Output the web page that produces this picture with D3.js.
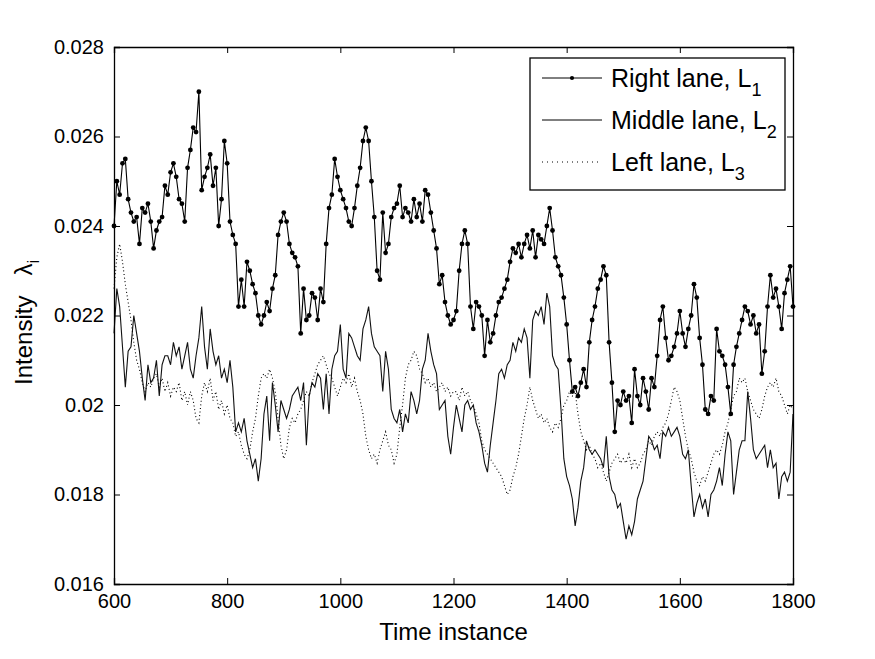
<!DOCTYPE html>
<html>
<head>
<meta charset="utf-8">
<script src="https://cdn.jsdelivr.net/npm/d3@7"></script>
<style>
  html, body { margin: 0; padding: 0; background: #fff; }
  svg { display: block; font-family: "Liberation Sans", Arial, Helvetica, sans-serif; }
</style>
</head>
<body>
<svg id="chart" width="875" height="659"></svg>
<script>
// ---- data ----
const tStart = 600, tStep = 5;
const rightLane = [
0.0240,0.0250,0.0247,0.0254,0.0255,0.0246,0.0243,0.0241,0.0242,0.0236,
0.0244,0.0243,0.0245,0.0241,0.0235,0.0239,0.0241,0.0242,0.0249,0.0247,
0.0252,0.0254,0.0251,0.0246,0.0245,0.0241,0.0253,0.0257,0.0262,0.0261,
0.0270,0.0248,0.0251,0.0253,0.0256,0.0249,0.0253,0.0240,0.0246,0.0259,
0.0254,0.0241,0.0238,0.0236,0.0222,0.0228,0.0222,0.0232,0.0230,0.0227,
0.0225,0.0220,0.0218,0.0220,0.0223,0.0221,0.0226,0.0229,0.0238,0.0241,
0.0243,0.0241,0.0236,0.0234,0.0233,0.0231,0.0216,0.0226,0.0219,0.0220,
0.0225,0.0224,0.0219,0.0226,0.0223,0.0236,0.0244,0.0247,0.0255,0.0251,
0.0248,0.0246,0.0244,0.0241,0.0240,0.0244,0.0249,0.0253,0.0259,0.0262,
0.0259,0.0250,0.0242,0.0230,0.0228,0.0243,0.0234,0.0236,0.0242,0.0244,
0.0245,0.0249,0.0242,0.0244,0.0243,0.0241,0.0246,0.0242,0.0245,0.0241,
0.0248,0.0247,0.0243,0.0239,0.0235,0.0227,0.0229,0.0223,0.0220,0.0218,
0.0219,0.0221,0.0230,0.0236,0.0239,0.0236,0.0222,0.0217,0.0223,0.0222,
0.0220,0.0211,0.0219,0.0214,0.0216,0.0220,0.0223,0.0224,0.0226,0.0228,
0.0232,0.0235,0.0234,0.0236,0.0233,0.0236,0.0238,0.0235,0.0239,0.0233,
0.0238,0.0237,0.0236,0.0240,0.0244,0.0239,0.0233,0.0231,0.0229,0.0224,
0.0218,0.0210,0.0203,0.0204,0.0202,0.0205,0.0208,0.0204,0.0214,0.0219,
0.0222,0.0226,0.0228,0.0231,0.0229,0.0214,0.0205,0.0194,0.0201,0.0200,
0.0203,0.0201,0.0202,0.0196,0.0208,0.0202,0.0200,0.0206,0.0203,0.0199,
0.0206,0.0204,0.0211,0.0219,0.0222,0.0215,0.0210,0.0211,0.0213,0.0216,
0.0221,0.0216,0.0213,0.0217,0.0220,0.0227,0.0224,0.0215,0.0209,0.0199,
0.0198,0.0202,0.0201,0.0217,0.0212,0.0211,0.0209,0.0204,0.0198,0.0209,
0.0213,0.0216,0.0219,0.0222,0.0221,0.0218,0.0220,0.0216,0.0218,0.0207,
0.0212,0.0222,0.0229,0.0224,0.0226,0.0222,0.0217,0.0225,0.0228,0.0231,
0.0222];
const middleLane = [
0.0216,0.0226,0.0222,0.0213,0.0204,0.0212,0.0213,0.0220,0.0216,0.0212,
0.0206,0.0201,0.0209,0.0205,0.0206,0.0210,0.0202,0.0209,0.0211,0.0211,
0.0209,0.0214,0.0211,0.0213,0.0208,0.0211,0.0214,0.0208,0.0206,0.0211,
0.0215,0.0222,0.0213,0.0208,0.0217,0.0212,0.0209,0.0211,0.0206,0.0208,
0.0205,0.0210,0.0204,0.0194,0.0196,0.0194,0.0197,0.0192,0.0189,0.0186,
0.0188,0.0183,0.0188,0.0198,0.0202,0.0192,0.0205,0.0200,0.0194,0.0201,
0.0199,0.0197,0.0199,0.0202,0.0203,0.0204,0.0201,0.0205,0.0191,0.0202,
0.0205,0.0204,0.0207,0.0206,0.0199,0.0207,0.0198,0.0208,0.0211,0.0212,
0.0218,0.0208,0.0206,0.0216,0.0215,0.0213,0.0211,0.0210,0.0217,0.0219,
0.0222,0.0216,0.0213,0.0212,0.0211,0.0203,0.0212,0.0208,0.0199,0.0197,
0.0196,0.0199,0.0194,0.0198,0.0196,0.0203,0.0201,0.0198,0.0201,0.0208,
0.0210,0.0216,0.0212,0.0209,0.0207,0.0199,0.0200,0.0201,0.0193,0.0189,
0.0195,0.0200,0.0197,0.0194,0.0200,0.0201,0.0199,0.0200,0.0196,0.0194,
0.0191,0.0187,0.0185,0.0191,0.0196,0.0201,0.0207,0.0208,0.0206,0.0209,
0.0210,0.0214,0.0212,0.0215,0.0214,0.0217,0.0215,0.0206,0.0219,0.0221,
0.0220,0.0222,0.0218,0.0225,0.0222,0.0211,0.0209,0.0208,0.0199,0.0188,
0.0184,0.0182,0.0179,0.0173,0.0177,0.0183,0.0186,0.0192,0.0190,0.0189,
0.0190,0.0189,0.0188,0.0186,0.0193,0.0184,0.0181,0.0180,0.0177,0.0178,
0.0174,0.0170,0.0173,0.0171,0.0174,0.0179,0.0181,0.0183,0.0188,0.0193,
0.0192,0.0190,0.0191,0.0188,0.0194,0.0193,0.0195,0.0193,0.0194,0.0195,
0.0193,0.0189,0.0188,0.0190,0.0182,0.0175,0.0178,0.0180,0.0177,0.0179,
0.0175,0.0180,0.0181,0.0183,0.0186,0.0182,0.0189,0.0194,0.0192,0.0180,
0.0185,0.0190,0.0192,0.0192,0.0203,0.0197,0.0190,0.0188,0.0189,0.0190,
0.0191,0.0186,0.0190,0.0186,0.0187,0.0179,0.0184,0.0185,0.0183,0.0185,
0.0198];
const leftLane = [
0.0226,0.0233,0.0236,0.0232,0.0227,0.0223,0.0219,0.0214,0.0210,0.0208,
0.0205,0.0203,0.0205,0.0204,0.0206,0.0207,0.0204,0.0206,0.0203,0.0205,
0.0202,0.0204,0.0203,0.0205,0.0201,0.0203,0.0200,0.0203,0.0201,0.0197,
0.0196,0.0202,0.0205,0.0203,0.0206,0.0201,0.0203,0.0199,0.0201,0.0198,
0.0200,0.0197,0.0196,0.0193,0.0194,0.0191,0.0189,0.0188,0.0190,0.0194,
0.0197,0.0202,0.0206,0.0207,0.0206,0.0208,0.0206,0.0203,0.0197,0.0191,
0.0188,0.0190,0.0195,0.0197,0.0196,0.0198,0.0199,0.0201,0.0203,0.0202,
0.0205,0.0207,0.0209,0.0210,0.0211,0.0209,0.0207,0.0206,0.0204,0.0202,
0.0204,0.0206,0.0205,0.0207,0.0204,0.0206,0.0203,0.0201,0.0198,0.0193,
0.0190,0.0188,0.0189,0.0187,0.0190,0.0192,0.0194,0.0191,0.0190,0.0187,
0.0189,0.0195,0.0200,0.0206,0.0209,0.0210,0.0212,0.0211,0.0208,0.0207,
0.0205,0.0206,0.0204,0.0205,0.0203,0.0204,0.0205,0.0203,0.0204,0.0202,
0.0203,0.0203,0.0201,0.0204,0.0202,0.0203,0.0201,0.0200,0.0198,0.0196,
0.0192,0.0190,0.0189,0.0188,0.0187,0.0186,0.0185,0.0184,0.0182,0.0180,
0.0181,0.0184,0.0186,0.0189,0.0193,0.0197,0.0200,0.0204,0.0201,0.0199,
0.0197,0.0198,0.0196,0.0197,0.0195,0.0194,0.0196,0.0195,0.0197,0.0200,
0.0201,0.0203,0.0202,0.0203,0.0198,0.0194,0.0192,0.0190,0.0191,0.0189,
0.0188,0.0186,0.0187,0.0185,0.0183,0.0185,0.0187,0.0188,0.0189,0.0187,
0.0188,0.0187,0.0189,0.0186,0.0188,0.0186,0.0187,0.0189,0.0190,0.0192,
0.0191,0.0193,0.0194,0.0193,0.0195,0.0196,0.0198,0.0201,0.0204,0.0203,
0.0201,0.0197,0.0193,0.0190,0.0188,0.0185,0.0183,0.0182,0.0184,0.0183,
0.0185,0.0187,0.0189,0.0190,0.0189,0.0191,0.0194,0.0196,0.0199,0.0202,
0.0203,0.0206,0.0205,0.0206,0.0203,0.0201,0.0199,0.0198,0.0197,0.0199,
0.0202,0.0204,0.0205,0.0204,0.0206,0.0203,0.0202,0.0200,0.0198,0.0200,
0.0199];
const xTicks = [600, 800, 1000, 1200, 1400, 1600, 1800];
const yTicks = [0.016, 0.018, 0.020, 0.022, 0.024, 0.026, 0.028];
const yTickLabels = ["0.016", "0.018", "0.02", "0.022", "0.024", "0.026", "0.028"];
const legendItems = [
  {name: "Right lane, L", sub: "1", key: "right"},
  {name: "Middle lane, L", sub: "2", key: "middle"},
  {name: "Left lane, L", sub: "3", key: "left"}
];

// ---- layout ----
const svg = d3.select("#chart");
const L = 114, R = 793, T = 47, B = 584;
const x = d3.scaleLinear().domain([600, 1800]).range([L, R]);
const y = d3.scaleLinear().domain([0.016, 0.028]).range([B, T]);
const times = rightLane.map((_, i) => tStart + i * tStep);

const toPts = arr => arr.map((v, i) => [times[i], v]);
const line = d3.line().x(d => x(d[0])).y(d => y(d[1]));

const plot = svg.append("g");
// Left lane dotted
plot.append("path").attr("d", line(toPts(leftLane)))
  .attr("fill", "none").attr("stroke", "#000").attr("stroke-width", 1.1)
  .attr("stroke-dasharray", "1,2.6");
// Middle lane solid
plot.append("path").attr("d", line(toPts(middleLane)))
  .attr("fill", "none").attr("stroke", "#111").attr("stroke-width", 1.1);
// Right lane with dots
plot.append("path").attr("d", line(toPts(rightLane)))
  .attr("fill", "none").attr("stroke", "#000").attr("stroke-width", 1.1);
plot.selectAll("circle.rl").data(toPts(rightLane)).enter().append("circle")
  .attr("class", "rl").attr("cx", d => x(d[0])).attr("cy", d => y(d[1]))
  .attr("r", 2.4).attr("fill", "#000");

// ---- axes (MATLAB-style box with inward ticks) ----
const tl = 6;
const axB = svg.append("g").attr("transform", `translate(0,${B})`)
  .call(d3.axisBottom(x).tickValues(xTicks).tickSize(-tl).tickPadding(10).tickFormat(d3.format("d")));
const axT = svg.append("g").attr("transform", `translate(0,${T})`)
  .call(d3.axisTop(x).tickValues(xTicks).tickSize(-tl).tickFormat(""));
const axL = svg.append("g").attr("transform", `translate(${L},0)`)
  .call(d3.axisLeft(y).tickValues(yTicks).tickSize(-tl).tickPadding(10)
    .tickFormat((d, i) => yTickLabels[i]));
const axR = svg.append("g").attr("transform", `translate(${R},0)`)
  .call(d3.axisRight(y).tickValues(yTicks).tickSize(-tl).tickFormat(""));
[axB, axT, axL, axR].forEach(a => {
  a.select(".domain").attr("stroke", "#000").attr("stroke-width", 1.3);
  a.selectAll(".tick line").attr("stroke", "#000");
  a.selectAll("text").attr("fill", "#000").style("font-size", "20px")
    .style("font-family", '"Liberation Sans", Arial, Helvetica, sans-serif');
});

// ---- axis titles ----
svg.append("text").attr("x", (L + R) / 2).attr("y", 640)
  .attr("text-anchor", "middle").style("font-size", "24px").text("Time instance");
const yt = svg.append("text").attr("transform", "translate(32,385) rotate(-90)")
  .attr("text-anchor", "start").style("font-size", "24px");
yt.append("tspan").text("Intensity\u00a0\u00a0\u00a0\u03bb");
yt.append("tspan").attr("dy", 7).style("font-size", "17px").text("i");

// ---- legend ----
const lg = svg.append("g");
lg.append("rect").attr("x", 530).attr("y", 58).attr("width", 255).attr("height", 132)
  .attr("fill", "#fff").attr("stroke", "#000").attr("stroke-width", 1.3);
legendItems.forEach((it, i) => {
  const cy = 78 + i * 42;
  const ln = lg.append("line").attr("x1", 542).attr("x2", 602).attr("y1", cy).attr("y2", cy)
    .attr("stroke", "#000").attr("stroke-width", 1);
  if (it.key === "right") {
    lg.append("circle").attr("cx", 572).attr("cy", cy).attr("r", 2.1).attr("fill", "#000");
  }
  if (it.key === "left") ln.attr("stroke-dasharray", "1,4");
  const tx = lg.append("text").attr("x", 611).attr("y", cy + 9).style("font-size", "25px");
  tx.append("tspan").text(it.name);
  tx.append("tspan").attr("dy", 9).style("font-size", "18px").text(it.sub);
});
</script>
</body>
</html>
